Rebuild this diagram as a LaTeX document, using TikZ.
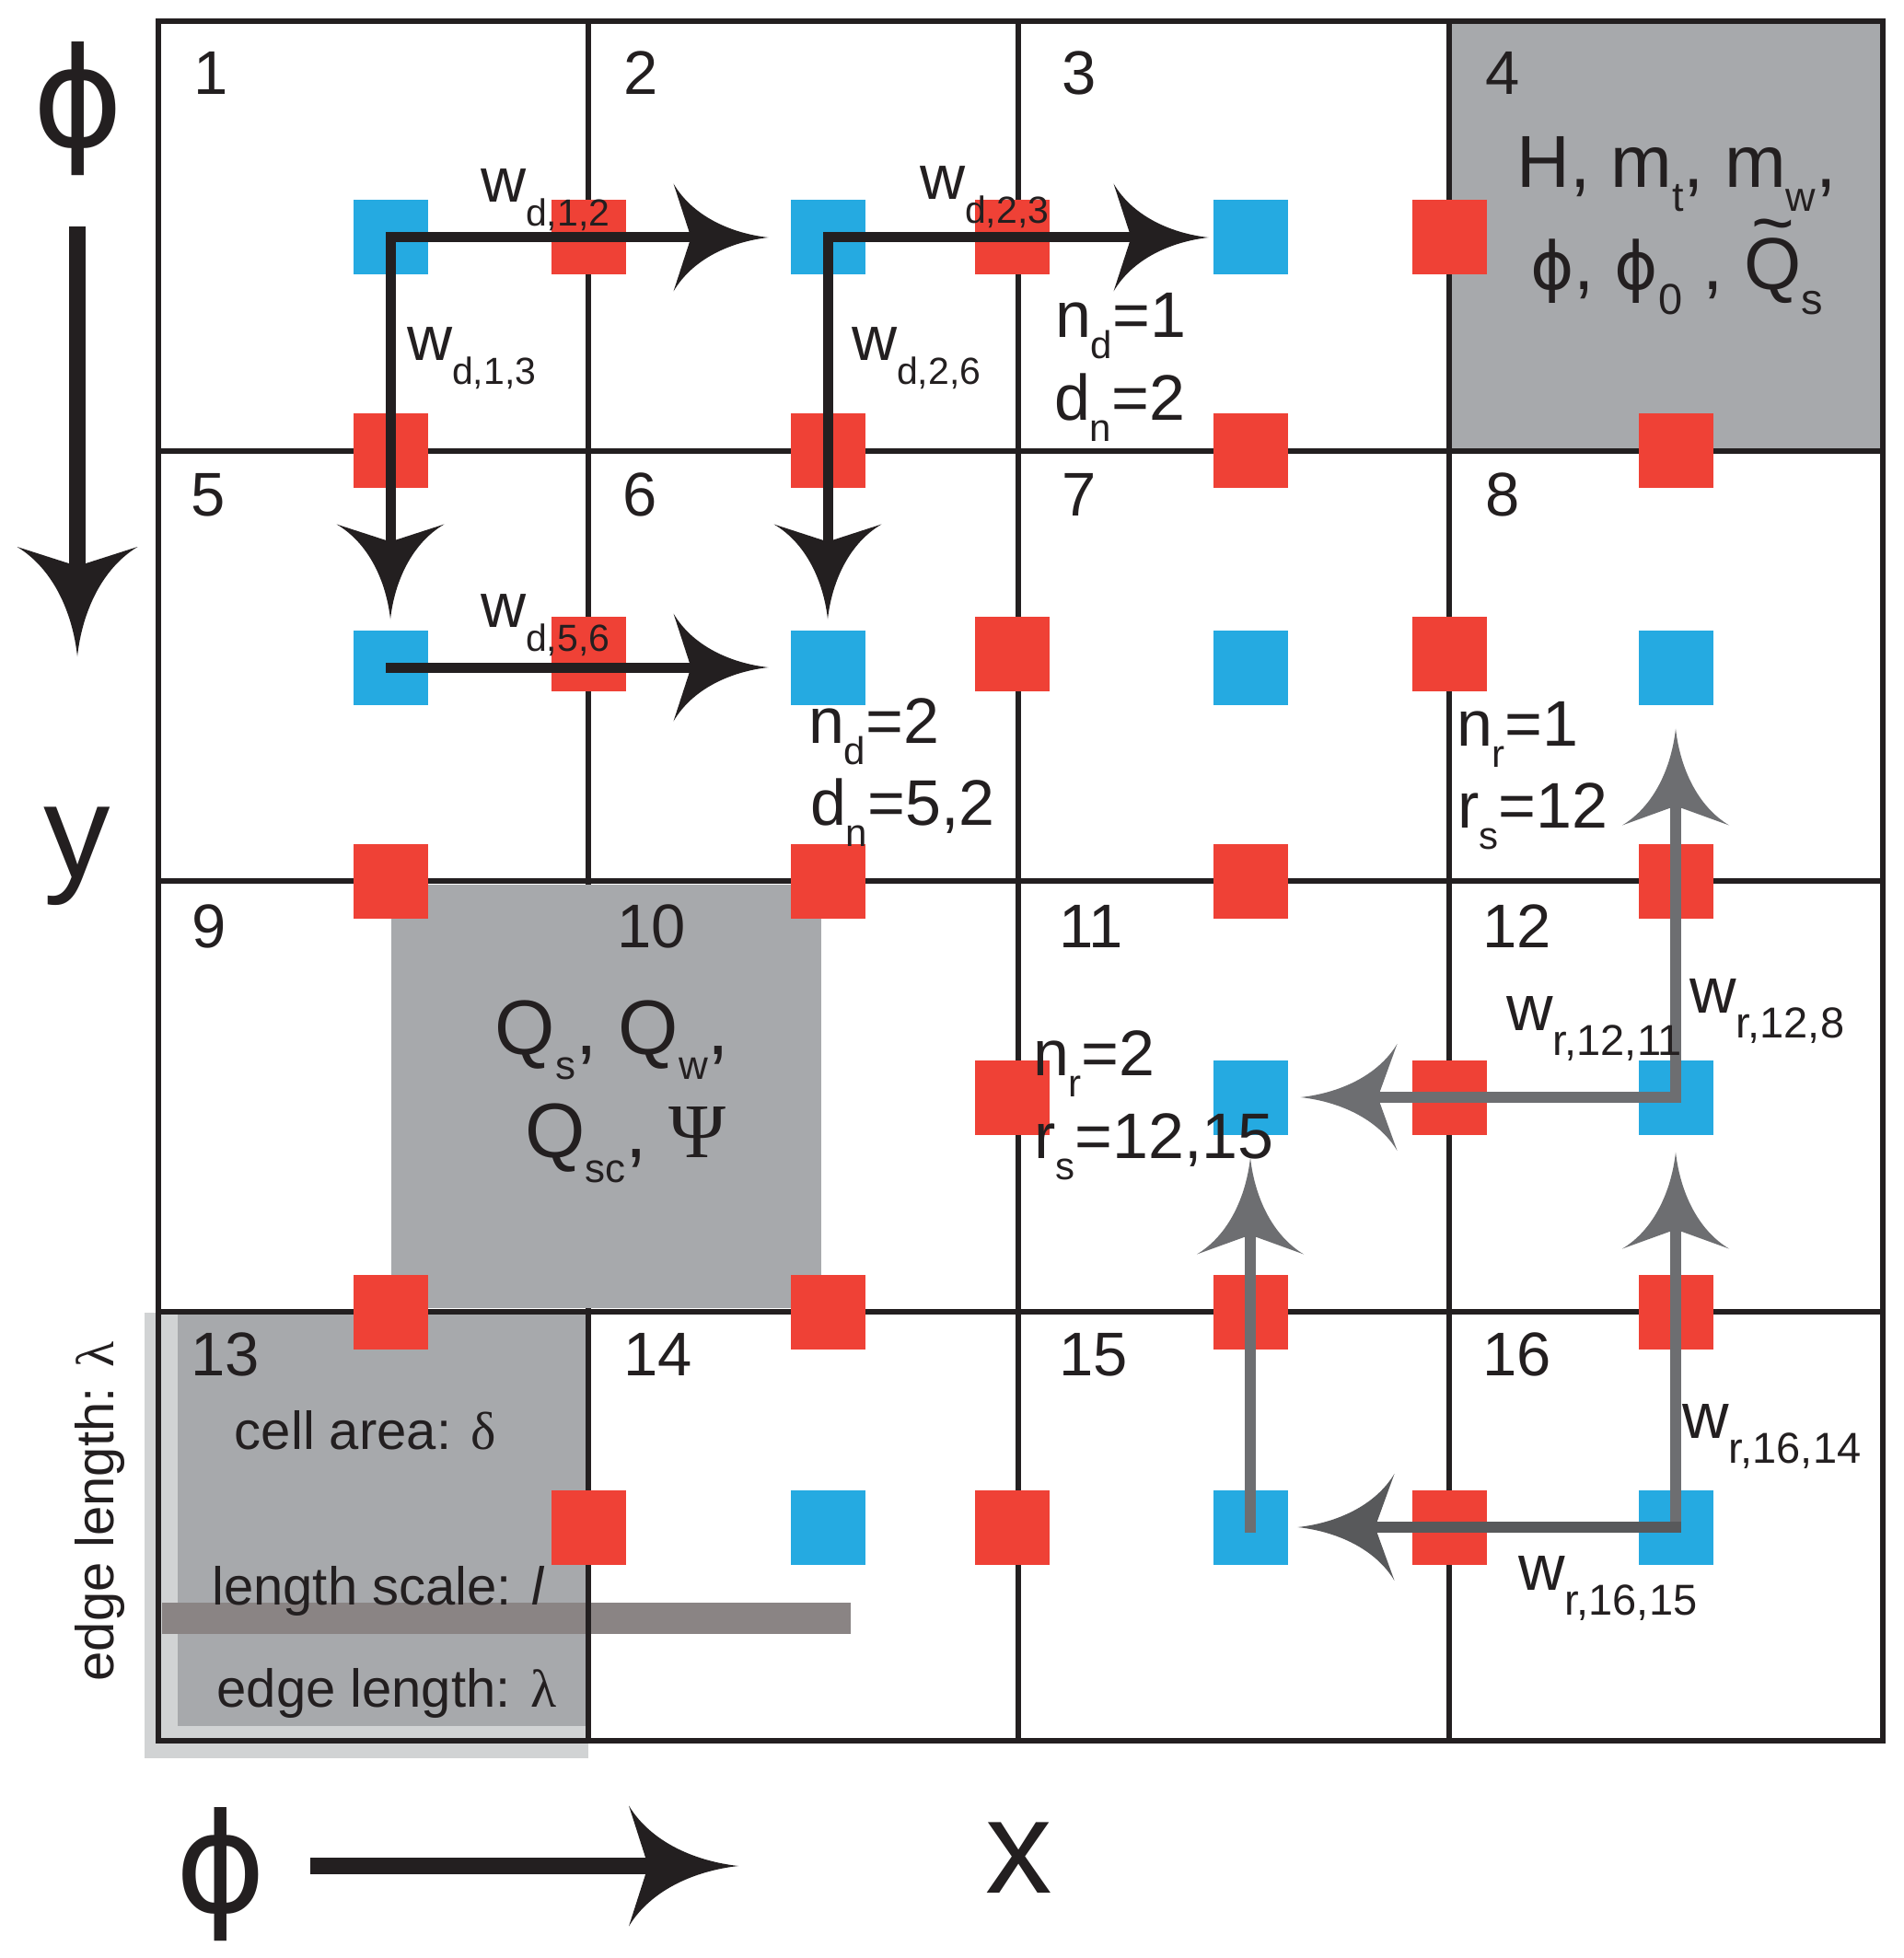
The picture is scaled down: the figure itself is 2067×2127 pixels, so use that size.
\documentclass[tikz,border=0pt]{standalone}
\usepackage{fontspec}
\usepackage{graphicx}
\setmainfont{Liberation Sans}
\newfontfamily\serifgr{Liberation Serif}
\newfontfamily\phifont{DejaVu Sans}
\usetikzlibrary{arrows.meta}
\definecolor{ink}{HTML}{231F20}
\definecolor{sqblue}{HTML}{25AAE1}
\definecolor{sqred}{HTML}{EF4136}
\definecolor{cellgray}{HTML}{A7A9AC}
\definecolor{lightgray}{HTML}{D1D3D4}
\definecolor{barcol}{HTML}{8A8484}
\definecolor{arrgray}{HTML}{6D6E71}
\definecolor{arrdark}{HTML}{58595B}
\newcommand\fpx[1]{\fontsize{\fpeval{0.3*#1}pt}{\fpeval{0.36*#1}pt}\selectfont}
\newcommand\lsb[3]{\raisebox{-\fpeval{0.3*#1}pt}{\fpx{#2}#3}}
\pgfdeclarearrow{
  name = Swept,
  parameters = {\the\pgfarrowlength,\the\pgfarrowwidth,\the\pgfarrowinset},
  setup code = {
    \pgfarrowssettipend{\pgfarrowlength}
    \pgfarrowssetbackend{0pt}
    \pgfarrowssetlineend{\pgfarrowinset}
    \pgfarrowssetvisualbackend{\pgfarrowinset}
    \pgfarrowshullpoint{\pgfarrowlength}{0pt}
    \pgfarrowsupperhullpoint{0pt}{.5\pgfarrowwidth}
    \pgfarrowssavethe\pgfarrowlength
    \pgfarrowssavethe\pgfarrowwidth
    \pgfarrowssavethe\pgfarrowinset
  },
  drawing code = {
    \pgfpathmoveto{\pgfpoint{\pgfarrowlength}{0pt}}
    \pgfpathcurveto{\pgfpoint{.6\pgfarrowlength}{.04\pgfarrowwidth}}{\pgfpoint{.2\pgfarrowlength}{.2\pgfarrowwidth}}{\pgfpoint{0pt}{.5\pgfarrowwidth}}
    \pgfpathlineto{\pgfpoint{\pgfarrowinset}{0pt}}
    \pgfpathlineto{\pgfpoint{0pt}{-.5\pgfarrowwidth}}
    \pgfpathcurveto{\pgfpoint{.2\pgfarrowlength}{-.2\pgfarrowwidth}}{\pgfpoint{.6\pgfarrowlength}{-.04\pgfarrowwidth}}{\pgfpoint{\pgfarrowlength}{0pt}}
    \pgfpathclose
    \pgfusepathqfill
  },
  defaults = {length = 10pt, width = 10pt, inset = 2pt}
}
\tikzset{
  gridln/.style={draw=ink, line width=1.8pt},
  bsq/.style={fill=sqblue, minimum size=24.3pt, inner sep=0pt, outer sep=0pt},
  rsq/.style={fill=sqred, minimum size=24.3pt, inner sep=0pt, outer sep=0pt},
  blkarr/.style={draw=ink, line width=3.3pt, line cap=rect, -{Swept[length=30.9pt,width=35.1pt,inset=5.7pt]}},
  gryarr/.style={draw=arrgray, line width=3.6pt, line cap=rect, -{Swept[length=31.5pt,width=34.8pt,inset=6.3pt]}},
  axarr/.style={draw=ink, line width=5.4pt, -{Swept[length=35.7pt,width=39.3pt,inset=6.3pt]}},
  lbl/.style={inner sep=0pt, outer sep=0pt, text=ink},
  cellno/.style={lbl, anchor=base west, font=\fpx{67}},
  bw/.style={lbl, anchor=base west},
}
\begin{document}
\begin{tikzpicture}[x=0.3pt, y=-0.3pt]
\useasboundingbox (0,0) rectangle (2067,2127);
\fill[white] (0,0) rectangle (2067,2127);
% shaded cells
\fill[cellgray] (1574,23) rectangle (2045,490);
\fill[lightgray] (157,1426) rectangle (639,1910);
\fill[cellgray] (193,1428) rectangle (639,1875);
\fill[barcol] (176,1741) rectangle (924,1775);
% grid
\draw[gridln] (172,23) rectangle (2045,1891);
\foreach \gx in {639,1106,1574} \draw[gridln] (\gx,23) -- (\gx,1891);
\foreach \gy in {490,957,1425} \draw[gridln] (172,\gy) -- (2045,\gy);
\fill[cellgray] (425,961) rectangle (892,1421);
% red squares on vertical boundaries
\node[rsq] (r1a) at (639,258) {};
\node[rsq] (r1b) at (1099,258) {};
\node[rsq] (r1c) at (1574,258) {};
\node[rsq] (r2a) at (639,710) {};
\node[rsq] (r2b) at (1099,710) {};
\node[rsq] (r2c) at (1574,710) {};
\node[rsq] (r3b) at (1099,1192) {};
\node[rsq] (r3c) at (1574,1192) {};
\node[rsq] (r4a) at (639,1659) {};
\node[rsq] (r4b) at (1099,1659) {};
\node[rsq] (r4c) at (1574,1659) {};
% red squares on horizontal boundaries
\node[rsq] (h1a) at (424,490) {};
\node[rsq] (h1b) at (899,490) {};
\node[rsq] (h1c) at (1358,490) {};
\node[rsq] (h1d) at (1820,490) {};
\node[rsq] (h2a) at (424,957) {};
\node[rsq] (h2b) at (899,957) {};
\node[rsq] (h2c) at (1358,957) {};
\node[rsq] (h2d) at (1820,957) {};
\node[rsq] (h3a) at (424,1425) {};
\node[rsq] (h3b) at (899,1425) {};
\node[rsq] (h3c) at (1358,1425) {};
\node[rsq] (h3d) at (1820,1425) {};
% blue squares
\node[bsq] (b1) at (424,258) {};
\node[bsq] (b2) at (899,258) {};
\node[bsq] (b3) at (1358,258) {};
\node[bsq] (b5) at (424,725) {};
\node[bsq] (b6) at (899,725) {};
\node[bsq] (b7) at (1358,725) {};
\node[bsq] (b8) at (1820,725) {};
\node[bsq] (b11) at (1358,1192) {};
\node[bsq] (b12) at (1820,1192) {};
\node[bsq] (b14) at (899,1659) {};
\node[bsq] (b15) at (1358,1659) {};
\node[bsq] (b16) at (1820,1659) {};
% black arrows
\draw[blkarr, shorten >=7.2pt] (b1.center) -- (b2.west);
\draw[blkarr, shorten >=3.6pt] (b1.center) -- (b5.north);
\draw[blkarr, shorten >=1.5pt] (b2.center) -- (b3.west);
\draw[blkarr, shorten >=3.6pt] (b2.center) -- (b6.north);
\draw[blkarr, shorten >=7.2pt] (b5.center) -- (b6.west);
% gray arrows
\draw[gryarr, shorten >=7.8pt] (b12.center) -- (b8.south);
\draw[gryarr, shorten >=4.2pt] (b12.center) -- (b11.east);
\draw[gryarr, shorten >=5.7pt] (b16.center) -- (b12.south);
\draw[gryarr, draw=arrdark, shorten >=3.3pt] (b16.center) -- (b15.east);
\draw[gryarr, shorten >=7.5pt] (b15.center) -- (b11.south);
% axes
\coordinate (ya0) at (84,246);
\coordinate (ya1) at (84,713);
\draw[axarr] (ya0) -- (ya1);
\coordinate (xa0) at (337,2027);
\coordinate (xa1) at (802,2027);
\draw[axarr] (xa0) -- (xa1);
\node[lbl, font=\phifont\fpx{150}] (phiy) at (85,118) {ϕ};
\node[lbl, font=\phifont\fpx{150}] (phix) at (240,2036) {ϕ};
\node[lbl, font=\fpx{145}] (ylab) at (84,930) {y};
\node[lbl, font=\fpx{145}] (xlab) at (1107,2018) {x};
% cell numbers
\node[cellno] (c1) at (210,103) {1};
\node[cellno] (c2) at (677,103) {2};
\node[cellno] (c3) at (1153,103) {3};
\node[cellno] (c4) at (1613,103) {4};
\node[cellno] (c5) at (207,561) {5};
\node[cellno] (c6) at (676,561) {6};
\node[cellno] (c7) at (1153,561) {7};
\node[cellno] (c8) at (1613,561) {8};
\node[cellno] (c9) at (208,1029) {9};
\node[cellno] (c10) at (670,1029) {10};
\node[cellno] (c11) at (1150,1029) {11};
\node[cellno] (c12) at (1610,1029) {12};
\node[cellno] (c13) at (207,1494) {13};
\node[cellno] (c14) at (677,1494) {14};
\node[cellno] (c15) at (1150,1494) {15};
\node[cellno] (c16) at (1610,1494) {16};
% flux weights
\node[bw] (wd12) at (522,220) {\fpx{68}w\lsb{26}{41}{d,1,2}};
\node[bw] (wd23) at (999,217) {\fpx{68}w\lsb{26}{41}{d,2,3}};
\node[bw] (wd13) at (442,392) {\fpx{68}w\lsb{26}{41}{d,1,3}};
\node[bw] (wd26) at (925,392) {\fpx{68}w\lsb{26}{41}{d,2,6}};
\node[bw] (wd56) at (522,681) {\fpx{68}w\lsb{26}{41}{d,5,6}};
\node[bw] (wr1211) at (1636,1119) {\fpx{70}w\lsb{27}{47}{r,12,11}};
\node[bw] (wr128) at (1835,1100) {\fpx{70}w\lsb{27}{47}{r,12,8}};
\node[bw] (wr1614) at (1827,1562) {\fpx{70}w\lsb{27}{47}{r,16,14}};
\node[bw] (wr1615) at (1649,1727) {\fpx{70}w\lsb{27}{47}{r,16,15}};
% n/d labels
\node[bw] (nd3) at (1146,367) {\fpx{70}n\lsb{23}{42}{d}=1};
\node[bw] (dn3) at (1145,457) {\fpx{70}d\lsb{23}{42}{n}=2};
\node[bw] (nd6) at (878,807) {\fpx{70}n\lsb{23}{42}{d}=2};
\node[bw] (dn6) at (880,896) {\fpx{70}d\lsb{23}{42}{n}=5,2};
\node[bw] (nr8) at (1582,810) {\fpx{70}n\lsb{23}{42}{r}=1};
\node[bw] (rs8) at (1583,899) {\fpx{70}r\lsb{23}{42}{s}=12};
\node[bw] (nr11) at (1122,1168) {\fpx{70}n\lsb{23}{42}{r}=2};
\node[bw] (rs11) at (1123,1258) {\fpx{70}r\lsb{23}{42}{s}=12,15};
% cell 4 variables
\node[lbl, anchor=base] (v4a) at (1821,204) {\fpx{80}H, m\lsb{26}{45}{t}, m\lsb{26}{45}{w},};
\node[lbl, anchor=base] (v4b) at (1821,315) {\fpx{80}{\phifont\fpx{72}ϕ}, {\phifont\fpx{72}ϕ}\lsb{27}{47}{0} , \rlap{\hspace{2.6pt}\smash{\raisebox{13.5pt}{\textasciitilde}}}Q\lsb{27}{47}{s}};
% cell 10 variables
\node[lbl, anchor=base] (v10a) at (665,1145) {\fpx{84}Q\lsb{27}{44}{s}, Q\lsb{27}{44}{w},};
\node[lbl, anchor=base] (v10b) at (679,1257) {\fpx{84}Q\lsb{27}{44}{sc}, {\serifgr Ψ}};
% cell 13 legend
\node[lbl, anchor=base, font=\fpx{58}] (area) at (397,1574) {cell area: {\serifgr δ}};
\node[lbl, anchor=base, font=\fpx{58}] (lscale) at (411,1743) {length scale: \textit{l}};
\node[lbl, anchor=base, font=\fpx{58}] (edgeh) at (420,1854) {edge length: {\serifgr λ}};
\node[lbl, rotate=90, font=\fpx{58}] (edgev) at (109,1642) {edge length: {\serifgr λ}};
\end{tikzpicture}
\end{document}
